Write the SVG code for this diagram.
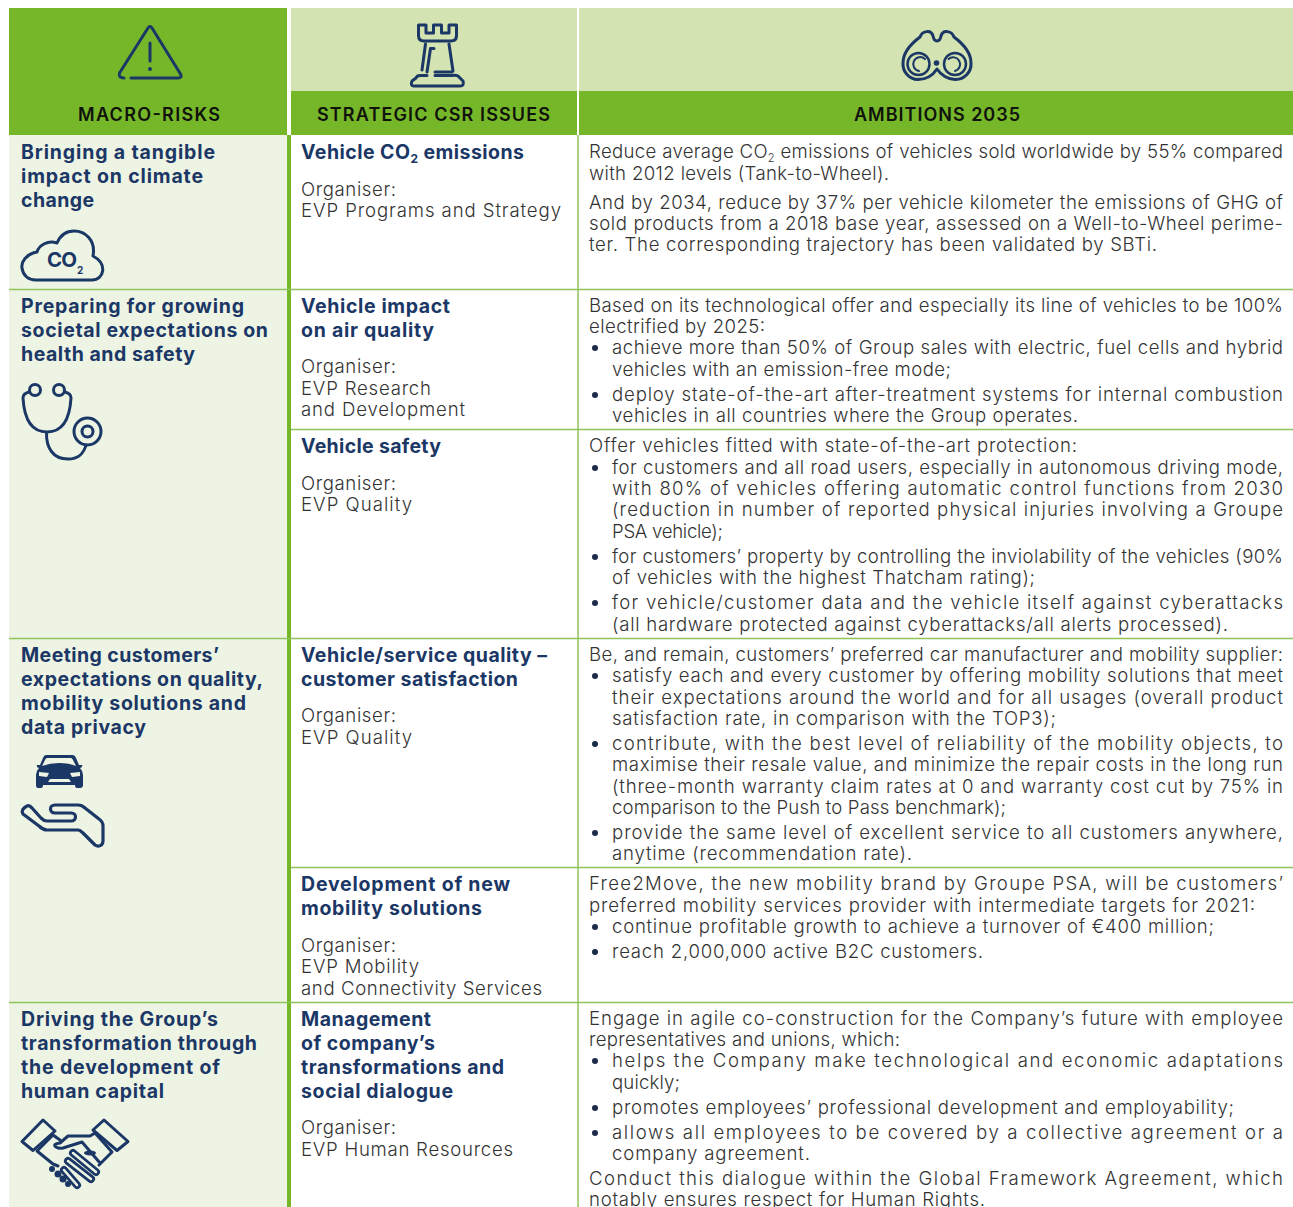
<svg xmlns="http://www.w3.org/2000/svg" width="1293" height="1207" viewBox="0 0 1293 1207">
<style>
text{font-family:"Inter","Liberation Sans",sans-serif;white-space:pre}
.h{font-size:18px;font-weight:600;fill:#10130c}
.b{font-size:19.5px;font-weight:700;fill:#1b3766}
.t{font-size:18.600px;font-weight:300;fill:#333}
.d{fill:#1b2b48}
.ic{fill:none;stroke:#1b3766;stroke-width:3;stroke-linecap:round;stroke-linejoin:round}
.ib{fill:#1b3766}
.f1{fill:none;stroke:#1b3766;stroke-width:8;stroke-linecap:round}
.f2{fill:none;stroke:#edf4e3;stroke-width:2.500;stroke-linecap:round}
.line{stroke:#8fc45a;stroke-width:1.5}
</style>
<defs><circle id="bul" r="3" cy="0" cx="0"/></defs>
<rect width="1293" height="1207" fill="#fff"/>
<g id="backgrounds">
<rect x="9" y="135" width="278" height="1072" fill="#edf4e3"/>
<rect x="9" y="8" width="278" height="127" fill="#76b72a"/>
<rect x="291" y="8" width="286" height="83" fill="#d3e3b1"/>
<rect x="579" y="8" width="714" height="83" fill="#d3e3b1"/>
<rect x="291" y="91" width="286" height="44" fill="#76b72a"/>
<rect x="579" y="91" width="714" height="44" fill="#76b72a"/>
<rect x="287" y="135" width="4" height="1072" fill="#76b72a"/>
</g>
<g id="connectors">
<path class="line" d="M578 135V1207M9 289.500H1293M291 429.500H1293M9 638.500H1293M291 867.500H1293M9 1002.500H1293"/>
</g>
<g id="header-macro-risks">
<path class="ic" d="M131 78H178Q182.500 78 180.500 74L152 28Q150 25 148 28L119.500 73Q118 78 124 78"/>
<path class="ic" d="M150 43V61"/><circle class="ib" cx="150" cy="69" r="2"/>
<text class="h" x="78" y="121" textLength="142">MACRO-RISKS</text>
</g>
<g id="header-strategic">
<path class="ic" d="M418.500 25V35.500Q418.500 41 424 41H451Q456.500 41 456.500 35.500V25H449V33H441.500V25H433.500V33H426V25Z"/>
<path class="ic" d="M425.500 44L422 70M430.500 48.500H434M430.500 48.500L427 72M449 44L453 71M435 72H452M427 75.500H420Q417 75.500 416 78L412 81Q410 86 414 86H460Q464.500 86 463 81L458 76Q456 75 452 75.500H435"/>
<text class="h" x="317" y="121" textLength="233">STRATEGIC CSR ISSUES</text>
</g>
<g id="header-ambitions">
<path class="ic" d="M918 79.500A15.500 15.500 0 0 1 903 63C903 52 912 43 920 37C922 31 931 29 933 36Q934 41 937 41Q940 41 941 36C943 29 952 31 954 37C962 43 971 52 971 63A15.500 15.500 0 0 1 955 79.500C948 79.500 941 75 937 69C933 75 926 79.500 918 79.500Z"/>
<circle class="ic" cx="918.500" cy="64" r="11" style="stroke-width:2.500"/><circle class="ic" cx="955" cy="64" r="11" style="stroke-width:2.500"/>
<path class="ic" d="M925 59A7 7 0 1 0 919 71M948.500 59A7 7 0 1 1 955 71" style="stroke-width:2"/>
<circle class="ib" cx="936.500" cy="63" r="2.800"/>
<text class="h" x="854" y="121" textLength="166">AMBITIONS 2035</text>
</g>
<g id="risk-climate">
<text class="b" x="21" y="159" textLength="194">Bringing a tangible</text>
<text class="b" x="21" y="183" textLength="182">impact on climate</text>
<text class="b" x="21" y="207" textLength="73">change</text>
<path class="ic" d="M36 280H92C104 280 108 264 93 256C96 240 85 231 74 231C66 231 60 236 57 243C48 240 39 245 37 252C26 254 21 262 22 268C23 275 28 280 36 280Z"/>
<text x="47" y="267" textLength="30" style="font-size:20.500px;font-weight:700;fill:#1b3766">CO</text><text x="77" y="274" style="font-size:10px;font-weight:700;fill:#1b3766">2</text>
</g>
<g id="issue-co2">
<text class="b" x="301" y="159" textLength="223">Vehicle CO<tspan dy="4" font-size="12">2</tspan><tspan dy="-4"> emissions</tspan></text>
<text class="t" x="301" y="196" textLength="95">Organiser:</text>
<text class="t" x="301" y="217" textLength="260">EVP Programs and Strategy</text>
</g>
<g id="ambition-co2">
<text class="t" x="589" y="158" textLength="694">Reduce average CO<tspan dy="4" font-size="11">2</tspan><tspan dy="-4"> emissions of vehicles sold worldwide by 55% compared</tspan></text>
<text class="t" x="589" y="180" textLength="300">with 2012 levels (Tank-to-Wheel).</text>
<text class="t" x="589" y="209" textLength="694">And by 2034, reduce by 37% per vehicle kilometer the emissions of GHG of</text>
<text class="t" x="589" y="230" textLength="694">sold products from a 2018 base year, assessed on a Well-to-Wheel perime-</text>
<text class="t" x="589" y="251" textLength="568">ter. The corresponding trajectory has been validated by SBTi.</text>
</g>
<g id="risk-health">
<text class="b" x="21" y="313" textLength="223">Preparing for growing</text>
<text class="b" x="21" y="337" textLength="247">societal expectations on</text>
<text class="b" x="21" y="361" textLength="174">health and safety</text>
<circle class="ic" cx="35" cy="390" r="5.500"/><circle class="ic" cx="59" cy="390" r="5.500"/>
<path class="ic" d="M29 392C25 393 23 395 23 398C24 415 29 432 47 432C65 432 70 415 71 398C71 395 69 393 65 392M46.500 432C46 448 53 459 68 459C78 459 84 453 86 445"/>
<circle class="ic" cx="87.500" cy="431.500" r="13.500"/><circle class="ic" cx="87.500" cy="431.500" r="5.500"/>
</g>
<g id="issue-air">
<text class="b" x="301" y="313" textLength="149">Vehicle impact</text>
<text class="b" x="301" y="337" textLength="133">on air quality</text>
<text class="t" x="301" y="373" textLength="95">Organiser:</text>
<text class="t" x="301" y="395" textLength="130">EVP Research</text>
<text class="t" x="301" y="416" textLength="164">and Development</text>
</g>
<g id="ambition-air">
<text class="t" x="589" y="312" textLength="694">Based on its technological offer and especially its line of vehicles to be 100%</text>
<text class="t" x="589" y="333" textLength="176">electrified by 2025:</text>
<use class="d" href="#bul" x="595" y="348"/><text class="t" x="612" y="354" textLength="671">achieve more than 50% of Group sales with electric, fuel cells and hybrid</text>
<text class="t" x="612" y="376" textLength="339">vehicles with an emission-free mode;</text>
<use class="d" href="#bul" x="595" y="395"/><text class="t" x="612" y="401" textLength="671">deploy state-of-the-art after-treatment systems for internal combustion</text>
<text class="t" x="612" y="422" textLength="466">vehicles in all countries where the Group operates.</text>
</g>
<g id="issue-safety">
<text class="b" x="301" y="453" textLength="140">Vehicle safety</text>
<text class="t" x="301" y="490" textLength="95">Organiser:</text>
<text class="t" x="301" y="511" textLength="111">EVP Quality</text>
</g>
<g id="ambition-safety">
<text class="t" x="589" y="452" textLength="488">Offer vehicles fitted with state-of-the-art protection:</text>
<use class="d" href="#bul" x="595" y="468"/><text class="t" x="612" y="474" textLength="671">for customers and all road users, especially in autonomous driving mode,</text>
<text class="t" x="612" y="495" textLength="671">with 80% of vehicles offering automatic control functions from 2030</text>
<text class="t" x="612" y="516" textLength="671">(reduction in number of reported physical injuries involving a Groupe</text>
<text class="t" x="612" y="538" textLength="111">PSA vehicle);</text>
<use class="d" href="#bul" x="595" y="557"/><text class="t" x="612" y="563" textLength="671">for customers’ property by controlling the inviolability of the vehicles (90%</text>
<text class="t" x="612" y="584" textLength="423">of vehicles with the highest Thatcham rating);</text>
<use class="d" href="#bul" x="595" y="603"/><text class="t" x="612" y="609" textLength="671">for vehicle/customer data and the vehicle itself against cyberattacks</text>
<text class="t" x="612" y="631" textLength="616">(all hardware protected against cyberattacks/all alerts processed).</text>
</g>
<g id="risk-customers">
<text class="b" x="21" y="662" textLength="198">Meeting customers’</text>
<text class="b" x="21" y="686" textLength="242">expectations on quality,</text>
<text class="b" x="21" y="710" textLength="225">mobility solutions and</text>
<text class="b" x="21" y="734" textLength="125">data privacy</text>
<path class="ib" fill-rule="evenodd" d="M46 755H72Q75 755 76 758L79 765H82Q83 767 80 768Q83 771 83 775V785Q83 788 80 788H77Q75 788 75 785H43Q43 788 41 788H38Q36 788 36 785V775Q36 771 39 768Q36 767 37 765H40L43 758Q44 755 46 755ZM47 758Q46 758 45 760L42 766Q50 763 59 763Q69 763 76 766L73 760Q72 758 71 758ZM39 772V776L47 777L49 773ZM80 772L70 773L72 777L80 776ZM50 779L48 782H71L69 779Z"/>
<path class="ic" d="M27 806C23 808 21 811 23 814L39 826C42 829 44 830 47 830H78C80 830 81 831 83 833L95 845C98 847 103 846 103 841V826C103 823 102 821 99 819L85 808C83 806 81 805 78 805H55C49 805 49 813 55 813H71C77 813 77 821 71 821H47C44 821 43 820 41 818L32 808C30 806 29 805 27 806Z" style="stroke-width:3.200"/>
</g>
<g id="issue-quality">
<text class="b" x="301" y="662" textLength="246">Vehicle/service quality –</text>
<text class="b" x="301" y="686" textLength="217">customer satisfaction</text>
<text class="t" x="301" y="722" textLength="95">Organiser:</text>
<text class="t" x="301" y="744" textLength="111">EVP Quality</text>
</g>
<g id="ambition-quality">
<text class="t" x="589" y="661" textLength="694">Be, and remain, customers’ preferred car manufacturer and mobility supplier:</text>
<use class="d" href="#bul" x="595" y="676"/><text class="t" x="612" y="682" textLength="671">satisfy each and every customer by offering mobility solutions that meet</text>
<text class="t" x="612" y="704" textLength="671">their expectations around the world and for all usages (overall product</text>
<text class="t" x="612" y="725" textLength="444">satisfaction rate, in comparison with the TOP3);</text>
<use class="d" href="#bul" x="595" y="744"/><text class="t" x="612" y="750" textLength="671">contribute, with the best level of reliability of the mobility objects, to</text>
<text class="t" x="612" y="771" textLength="671">maximise their resale value, and minimize the repair costs in the long run</text>
<text class="t" x="612" y="793" textLength="671">(three-month warranty claim rates at 0 and warranty cost cut by 75% in</text>
<text class="t" x="612" y="814" textLength="394">comparison to the Push to Pass benchmark);</text>
<use class="d" href="#bul" x="595" y="833"/><text class="t" x="612" y="839" textLength="671">provide the same level of excellent service to all customers anywhere,</text>
<text class="t" x="612" y="860" textLength="300">anytime (recommendation rate).</text>
</g>
<g id="issue-mobility">
<text class="b" x="301" y="891" textLength="209">Development of new</text>
<text class="b" x="301" y="915" textLength="181">mobility solutions</text>
<text class="t" x="301" y="952" textLength="95">Organiser:</text>
<text class="t" x="301" y="973" textLength="118">EVP Mobility</text>
<text class="t" x="301" y="995" textLength="241">and Connectivity Services</text>
</g>
<g id="ambition-mobility">
<text class="t" x="589" y="890" textLength="694">Free2Move, the new mobility brand by Groupe PSA, will be customers’</text>
<text class="t" x="589" y="912" textLength="666">preferred mobility services provider with intermediate targets for 2021:</text>
<use class="d" href="#bul" x="595" y="927"/><text class="t" x="612" y="933" textLength="602">continue profitable growth to achieve a turnover of €400 million;</text>
<use class="d" href="#bul" x="595" y="952"/><text class="t" x="612" y="958" textLength="371">reach 2,000,000 active B2C customers.</text>
</g>
<g id="risk-human">
<text class="b" x="21" y="1026" textLength="197">Driving the Group’s</text>
<text class="b" x="21" y="1050" textLength="236">transformation through</text>
<text class="b" x="21" y="1074" textLength="199">the development of</text>
<text class="b" x="21" y="1098" textLength="143">human capital</text>
<g class="ic">
<path d="M43 1120L55 1131L33 1150.500L22 1141.500Z"/><path d="M104 1120L128 1141.500L117 1150.500L93 1130Z"/>
<path d="M53 1135L37 1151L53 1164L58 1166M53 1135L60 1140M60 1143L68 1136H90L95 1133M60 1143Q52 1144 56 1147Q59 1149 63 1148L82 1142L100 1163M95 1133L112 1152L99 1165"/>
</g>
<path class="f1" d="M73 1153L96 1172M68 1161L91 1179M64 1170L77 1185"/>
<path class="f2" d="M73 1153L96 1172M68 1161L91 1179M64 1170L77 1185"/>
<g class="ib"><circle cx="52" cy="1169" r="3"/><circle cx="58" cy="1174" r="3.500"/><circle cx="63" cy="1179" r="3.500"/><circle cx="68" cy="1184" r="3"/><ellipse cx="90" cy="1153" rx="6" ry="2.500"/></g>
</g>
<g id="issue-human">
<text class="b" x="301" y="1026" textLength="130">Management</text>
<text class="b" x="301" y="1050" textLength="134">of company’s</text>
<text class="b" x="301" y="1074" textLength="203">transformations and</text>
<text class="b" x="301" y="1098" textLength="152">social dialogue</text>
<text class="t" x="301" y="1134" textLength="95">Organiser:</text>
<text class="t" x="301" y="1156" textLength="212">EVP Human Resources</text>
</g>
<g id="ambition-human">
<text class="t" x="589" y="1025" textLength="694">Engage in agile co-construction for the Company’s future with employee</text>
<text class="t" x="589" y="1046" textLength="311">representatives and unions, which:</text>
<use class="d" href="#bul" x="595" y="1061"/><text class="t" x="612" y="1067" textLength="671">helps the Company make technological and economic adaptations</text>
<text class="t" x="612" y="1089" textLength="68">quickly;</text>
<use class="d" href="#bul" x="595" y="1108"/><text class="t" x="612" y="1114" textLength="622">promotes employees’ professional development and employability;</text>
<use class="d" href="#bul" x="595" y="1133"/><text class="t" x="612" y="1139" textLength="671">allows all employees to be covered by a collective agreement or a</text>
<text class="t" x="612" y="1160" textLength="198">company agreement.</text>
<text class="t" x="589" y="1185" textLength="694">Conduct this dialogue within the Global Framework Agreement, which</text>
<text class="t" x="589" y="1206" textLength="396">notably ensures respect for Human Rights.</text>
</g>
</svg>
